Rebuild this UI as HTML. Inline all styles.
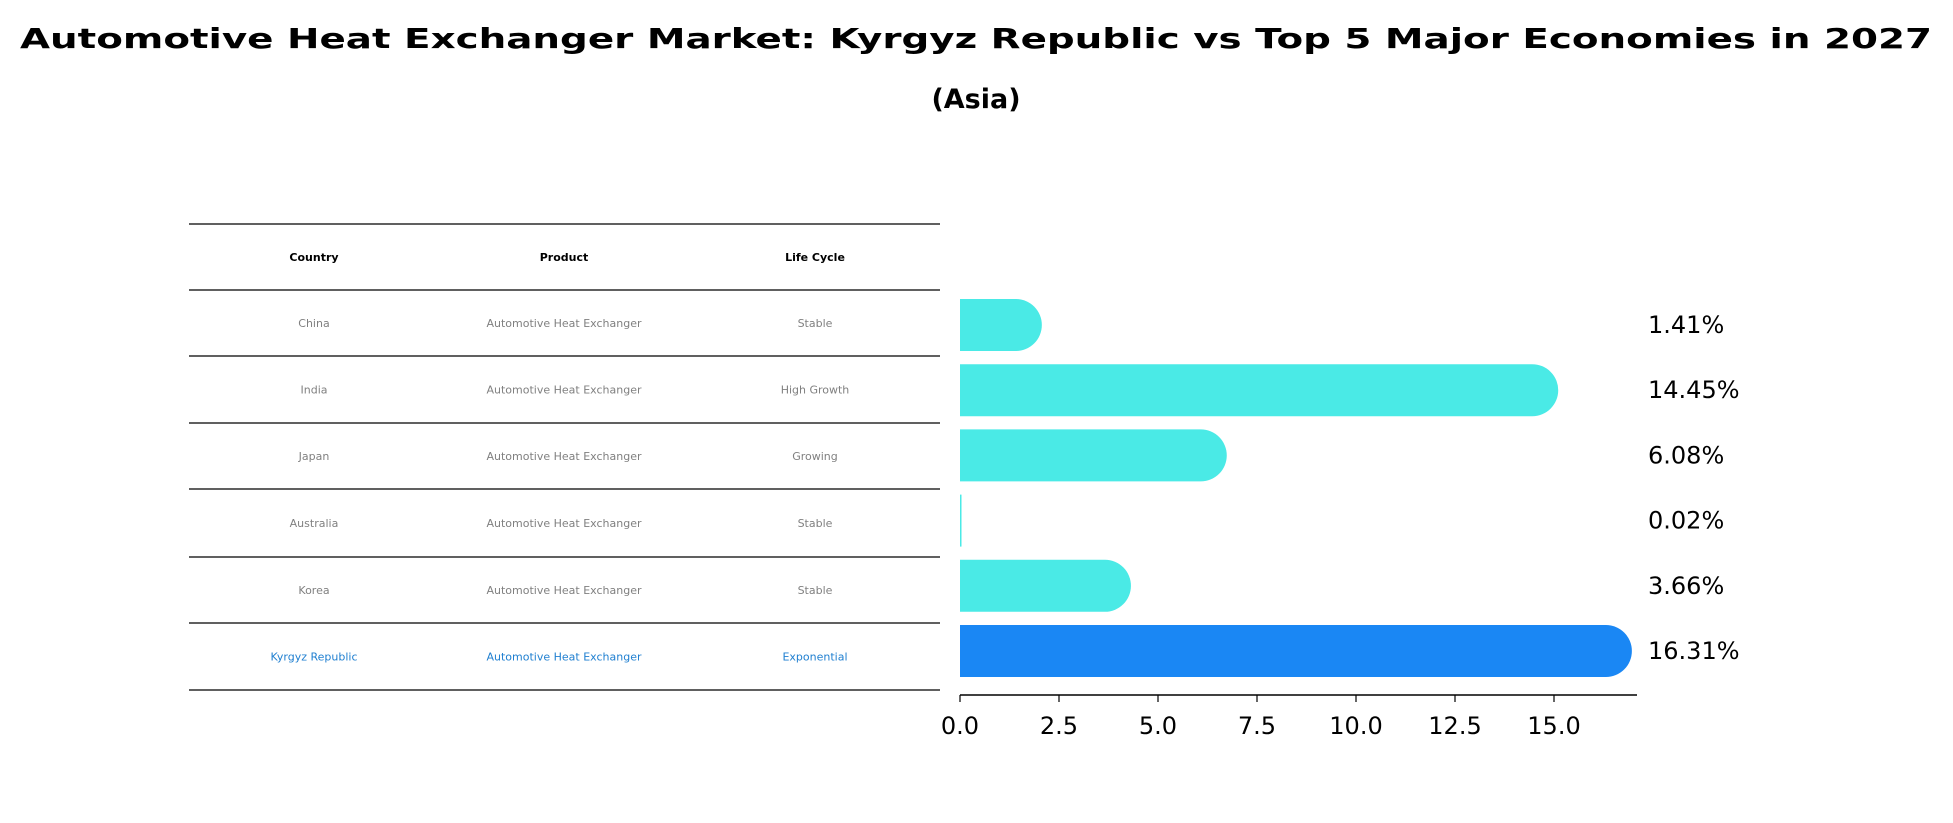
<!DOCTYPE html>
<html><head><meta charset="utf-8"><style>
body{margin:0;background:#fff;}
svg{display:block;font-family:"DejaVu Sans","Liberation Sans",sans-serif;}
</style></head><body>
<svg id="chart" width="1953" height="823" viewBox="0 0 1953 823" xmlns="http://www.w3.org/2000/svg">
<text x="976" y="48" text-anchor="middle" font-size="28" font-weight="bold" textLength="1912" lengthAdjust="spacingAndGlyphs">Automotive Heat Exchanger Market: Kyrgyz Republic vs Top 5 Major Economies in 2027</text>
<text x="976" y="108" text-anchor="middle" font-size="27" font-weight="bold">(Asia)</text>
<g id="table"></g>
<g id="bars"></g>
</svg>
<script>
const countries = ["China","India","Japan","Australia","Korea","Kyrgyz Republic"];
const products = ["Automotive Heat Exchanger","Automotive Heat Exchanger","Automotive Heat Exchanger","Automotive Heat Exchanger","Automotive Heat Exchanger","Automotive Heat Exchanger"];
const lifeCycles = ["Stable","High Growth","Growing","Stable","Stable","Exponential"];
const values = [1.41,14.45,6.08,0.02,3.66,16.31];
const valueLabels = ["1.41%","14.45%","6.08%","0.02%","3.66%","16.31%"];
const xTicks = [0,2.5,5,7.5,10,12.5,15];
const xTickLabels = ["0.0","2.5","5.0","7.5","10.0","12.5","15.0"];

const NS="http://www.w3.org/2000/svg";
function mk(tag,attrs,parent){const e=document.createElementNS(NS,tag);for(const k in attrs)e.setAttribute(k,attrs[k]);parent.appendChild(e);return e;}

// table
const table=document.getElementById('table');
const lineYs=[224,290,356,423,489,557,623,690];
const colX=[314,564,815];
lineYs.forEach((y,i)=>{
  const l=mk('line',{x1:189,x2:940,y1:y,y2:y,stroke:'#000','stroke-width':1.2},table);
  
  
});
const headers=["Country","Product","Life Cycle"];
headers.forEach((h,i)=>{
  const t=mk('text',{x:colX[i],y:261,'text-anchor':'middle','font-size':11,'font-weight':'bold'},table);
  t.textContent=h;
  
  
});
countries.forEach((c,r)=>{
  const cy=(lineYs[r+1]+lineYs[r+2])/2+4;
  const col=r===countries.length-1?'#1f7fd0':'#808080';
  [c,products[r],lifeCycles[r]].forEach((v,i)=>{
    const t=mk('text',{x:colX[i],y:cy,'text-anchor':'middle','font-size':11,fill:col},table);
    t.textContent=v;
    
    
  });
});

// bars
const g=document.getElementById('bars');
const x0=960, unit=39.6;
const xs=v=>x0+v*unit;
const rowY=i=>325+i*65.2;
const bh=52;
values.forEach((v,i)=>{
  const cy=rowY(i);
  const col=i===values.length-1?'#1a87f4':'#4aeae6';
  const w=xs(v)-x0;
  const r=Math.min(bh/2, w>2?bh/2:0);
  let d;
  if(w>2){
    d=`M${x0},${cy-bh/2} H${xs(v)} A${bh/2},${bh/2} 0 0 1 ${xs(v)},${cy+bh/2} H${x0} Z`;
  } else {
    d=`M${x0},${cy-bh/2} H${x0+1.5} V${cy+bh/2} H${x0} Z`;
  }
  const b=mk('path',{d:d,fill:col},g);
  
  
  const t=mk('text',{x:1648,y:cy+8,'font-size':24},g);
  t.textContent=valueLabels[i];
  
  
});
const ax=mk('line',{x1:x0,x2:1637,y1:695,y2:695,stroke:'#000','stroke-width':1.6},g);


xTicks.forEach((v,i)=>{
  const tk=mk('line',{x1:xs(v),x2:xs(v),y1:695,y2:702,stroke:'#000','stroke-width':1.2},g);
  
  
  const t=mk('text',{x:xs(v),y:734,'text-anchor':'middle','font-size':24},g);
  t.textContent=xTickLabels[i];
  
  
});
</script>
</body></html>
